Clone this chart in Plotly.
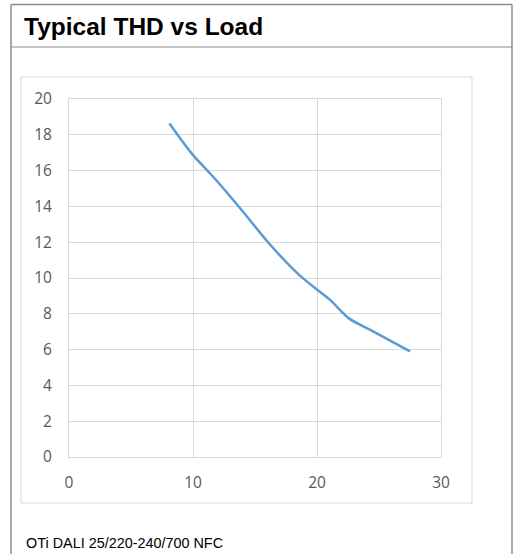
import plotly.graph_objects as go

# Data
load = [8.1, 9.9, 11.7, 13.8, 16.3, 18.6, 20.1, 21.1, 22.6, 24.3, 27.5]
thd = [18.63, 16.95, 15.6, 13.9, 11.8, 10.15, 9.3, 8.75, 7.73, 7.1, 5.9]
x_ticks = [0, 10, 20, 30]
y_ticks = [0, 2, 4, 6, 8, 10, 12, 14, 16, 18, 20]
title_text = "Typical THD vs Load"
footer_text = "OTi DALI 25/220-240/700 NFC"

W, H = 514, 554
L, R, T, B = 69, 441, 99, 457  # plot area in pixels


def px(x):
    return (x - L) / (R - L)


def py(y):
    return (B - y) / (B - T)


fig = go.Figure()
fig.add_trace(go.Scatter(
    x=load, y=thd, mode="lines",
    line=dict(color="#5B9BD5", width=2.5, shape="spline", smoothing=0.7),
    hoverinfo="skip", showlegend=False,
))

grid = "#d9d9d9"
tickfont = dict(family="Open Sans", size=15.5, color="#595959")

fig.update_xaxes(range=[0, 30], tickvals=x_ticks, showgrid=True, gridcolor=grid,
                 gridwidth=1, zeroline=False, showline=True, linecolor=grid,
                 linewidth=1, mirror=True, tickfont=tickfont, ticklabelstandoff=11,
                 fixedrange=True)
fig.update_yaxes(range=[0, 20], tickvals=y_ticks, showgrid=True, gridcolor=grid,
                 gridwidth=1, zeroline=False, showline=True, linecolor=grid,
                 linewidth=1, mirror=True, tickfont=tickfont, ticklabelstandoff=13,
                 fixedrange=True)

border = "#8c8c8c"
shapes = [
    # outer frame: top, left, right
    dict(type="line", xref="paper", yref="paper", x0=px(11), x1=px(512), y0=py(4.5), y1=py(4.5),
         line=dict(color=border, width=1.5)),
    dict(type="line", xref="paper", yref="paper", x0=px(11), x1=px(11), y0=py(4.5), y1=py(560),
         line=dict(color=border, width=1.5)),
    dict(type="line", xref="paper", yref="paper", x0=px(512), x1=px(512), y0=py(4.5), y1=py(560),
         line=dict(color=border, width=1.5)),
    # title separator
    dict(type="line", xref="paper", yref="paper", x0=px(11), x1=px(512), y0=py(47), y1=py(47),
         line=dict(color=border, width=1.2)),
    # chart box
    dict(type="rect", xref="paper", yref="paper", x0=px(21), x1=px(472), y0=py(77), y1=py(503),
         line=dict(color=grid, width=1)),
]

annotations = [
    dict(text="<b>" + title_text + "</b>", xref="paper", yref="paper", x=px(22), y=py(26.5),
         xanchor="left", yanchor="middle", showarrow=False,
         font=dict(family="Liberation Sans", size=24.5, color="#000000")),
    dict(text=footer_text, xref="paper", yref="paper", x=px(24), y=py(543),
         xanchor="left", yanchor="middle", showarrow=False,
         font=dict(family="Liberation Sans", size=14.4, color="#000000")),
]

fig.update_layout(
    width=W, height=H,
    margin=dict(l=L, r=W - R, t=T, b=H - B, pad=0),
    paper_bgcolor="white", plot_bgcolor="white",
    shapes=shapes, annotations=annotations,
    showlegend=False,
)

fig.write_html("out.html", config={"displayModeBar": False},
               post_script="document.body.style.margin='0';document.body.style.overflow='hidden';")
